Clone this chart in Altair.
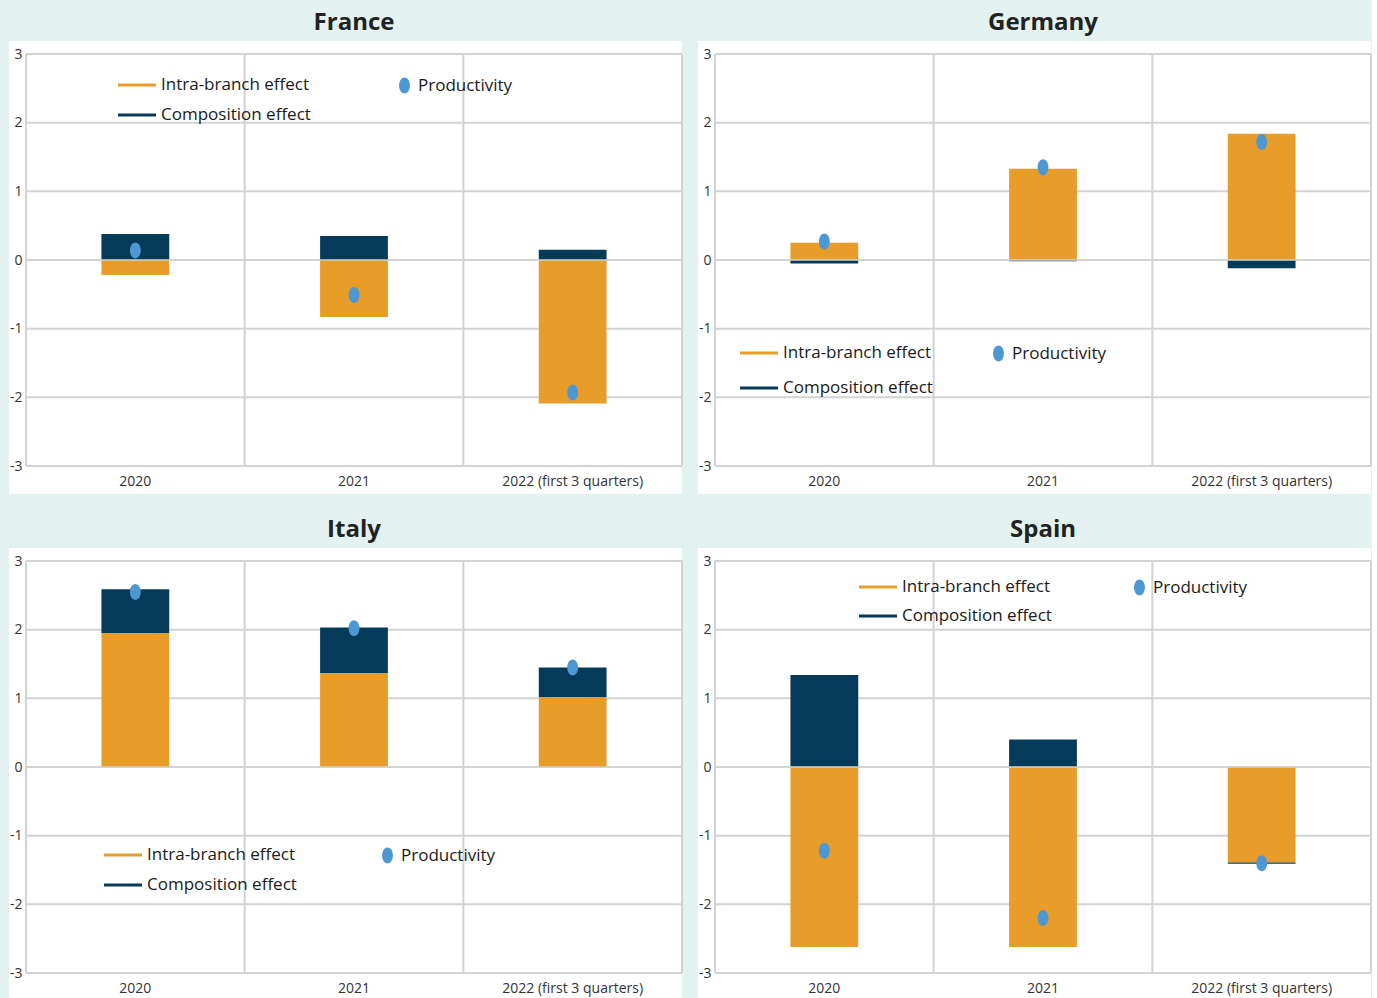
import altair as alt
import pandas as pd

# Categories, tick values and series labels
categories = ["2020", "2021", "2022 (first 3 quarters)"]
y_ticks = [-3, -2, -1, 0, 1, 2, 3]
baseline = [0]
series_names = ["Intra-branch effect", "Composition effect"]
productivity_name = "Productivity"

# Contributions to productivity growth (percentage points)
france_intra = [-0.22, -0.83, -2.09]
france_comp = [0.38, 0.35, 0.15]
france_prod = [0.14, -0.51, -1.93]

germany_intra = [0.25, 1.33, 1.84]
germany_comp = [-0.05, -0.02, -0.12]
germany_prod = [0.27, 1.35, 1.72]

italy_intra = [1.95, 1.37, 1.02]
italy_comp = [0.64, 0.66, 0.43]
italy_prod = [2.55, 2.02, 1.45]

spain_intra = [-2.62, -2.62, -1.39]
spain_comp = [1.34, 0.40, -0.02]
spain_prod = [-1.22, -2.20, -1.40]

# Styling
W = 656
ORANGE = "#E89D2A"
NAVY = "#053A59"
BLUE = "#4D97D2"
GRID = "#d3d3d3"
TEAL = "#e3f2f1"
FONT = "Open Sans"
BAR_SYMBOL = "M-3,-0.16H1V0.16H-3Z"
DOT_SYMBOL = "M0,-1A0.68,1 0 1,1 0,1A0.68,1 0 1,1 0,-1Z"

y_scale = alt.Scale(domain=[-3, 3], nice=False, zero=False)
x_scale = alt.Scale(domain=categories, paddingInner=0, paddingOuter=0)
y_axis = alt.Axis(values=y_ticks, title=None, grid=False, domain=False, ticks=False,
                  labelFont=FONT, labelFontSize=14, labelColor="#333333",
                  labelPadding=4, labelExpr="datum.value + ''", zindex=1)
x_axis = alt.Axis(title=None, labelAngle=0, grid=False, domain=False, ticks=False,
                  labelFont=FONT, labelFontSize=14, labelColor="#333333",
                  labelPadding=8, labelLimit=400, zindex=1)


def panel(title, intra, comp, prod, lx, ly, gap, dx, height):
    bars = pd.DataFrame({
        "category": categories * 2,
        "series": [series_names[0]] * 3 + [series_names[1]] * 3,
        "value": intra + comp,
        "stack_order": [0] * 3 + [1] * 3,
    })
    points = pd.DataFrame({
        "category": categories,
        "series": [productivity_name] * 3,
        "value": prod,
    })

    # white card behind the plot and its labels
    backdrop = alt.Chart(pd.DataFrame({"k": [0]})).mark_rect(color="white").encode(
        x=alt.value(-17), x2=alt.value(W), y=alt.value(-13), y2=alt.value(height + 28)
    )
    hgrid = alt.Chart(pd.DataFrame({"tick": y_ticks})).mark_rule(
        color=GRID, strokeWidth=2
    ).encode(y=alt.Y("tick:Q", scale=y_scale, axis=y_axis))
    vgrid = alt.Chart(pd.DataFrame({"category": categories})).mark_rule(
        color=GRID, strokeWidth=2
    ).encode(x=alt.X("category:N", bandPosition=0, scale=x_scale, axis=x_axis))
    vgrid_end = alt.Chart(pd.DataFrame({"category": categories[-1:]})).mark_rule(
        color=GRID, strokeWidth=2
    ).encode(x=alt.X("category:N", bandPosition=1, scale=x_scale, axis=x_axis))

    bar_layer = alt.Chart(bars).mark_bar(width=alt.RelativeBandSize(0.31)).encode(
        x=alt.X("category:N", scale=x_scale, axis=x_axis),
        y=alt.Y("value:Q", stack="zero", scale=y_scale, axis=y_axis),
        color=alt.Color(
            "series:N",
            scale=alt.Scale(domain=series_names, range=[ORANGE, NAVY]),
            legend=alt.Legend(
                title=None, orient="none", legendX=lx + 19, legendY=ly - 9.5,
                direction="vertical", symbolType=BAR_SYMBOL, symbolSize=361,
                symbolStrokeWidth=0, labelFont=FONT, labelFontSize=17,
                labelColor="#1a1a1a", labelOffset=5, rowPadding=gap - 19,
                padding=0, labelLimit=400,
            ),
        ),
        order=alt.Order("stack_order:Q"),
    )
    # zero line runs over the bars
    zero_line = alt.Chart(pd.DataFrame({"tick": baseline})).mark_rule(
        color=GRID, strokeWidth=1.5
    ).encode(y=alt.Y("tick:Q", scale=y_scale, axis=y_axis))
    dot_layer = alt.Chart(points).mark_point(
        filled=True, size=256, shape=DOT_SYMBOL, opacity=1, strokeWidth=0
    ).encode(
        x=alt.X("category:N", scale=x_scale, axis=x_axis),
        y=alt.Y("value:Q", scale=y_scale, axis=y_axis),
        fill=alt.Fill(
            "series:N",
            scale=alt.Scale(domain=[productivity_name], range=[BLUE]),
            legend=alt.Legend(
                title=None, orient="none", legendX=dx - 8, legendY=ly - 8,
                symbolType=DOT_SYMBOL, symbolSize=256, symbolStrokeWidth=0,
                labelFont=FONT, labelFontSize=17, labelColor="#1a1a1a",
                labelOffset=5, padding=0, labelLimit=400,
            ),
        ),
    )
    return alt.layer(backdrop, hgrid, vgrid, vgrid_end, bar_layer, zero_line,
                     dot_layer).properties(
        width=W, height=height,
        title=alt.Title(title, font=FONT, fontSize=24, fontWeight="bold",
                        color="#222222", anchor="middle", offset=6),
    )


fr = panel("France", france_intra, france_comp, france_prod, 92, 31, 31, 378, 412)
de = panel("Germany", germany_intra, germany_comp, germany_prod, 25, 299, 36, 283, 412)
it = panel("Italy", italy_intra, italy_comp, italy_prod, 78, 294, 31, 361, 412)
es = panel("Spain", spain_intra, spain_comp, spain_prod, 144, 26, 30, 424, 412)


def independent(c):
    return c.resolve_scale(x="independent", y="independent", color="independent",
                           fill="independent").resolve_legend(color="independent",
                                                              fill="independent")


row1 = independent(alt.hconcat(fr, de, spacing=15))
row2 = independent(alt.hconcat(it, es, spacing=15))
chart = independent(alt.vconcat(row1, row2, spacing=24)).properties(
    background=TEAL,
    padding={"left": 9, "top": 11, "right": 0, "bottom": 0},
).configure_view(stroke=None)

chart.save("out.html", embed_options={"renderer": "svg", "actions": False})
